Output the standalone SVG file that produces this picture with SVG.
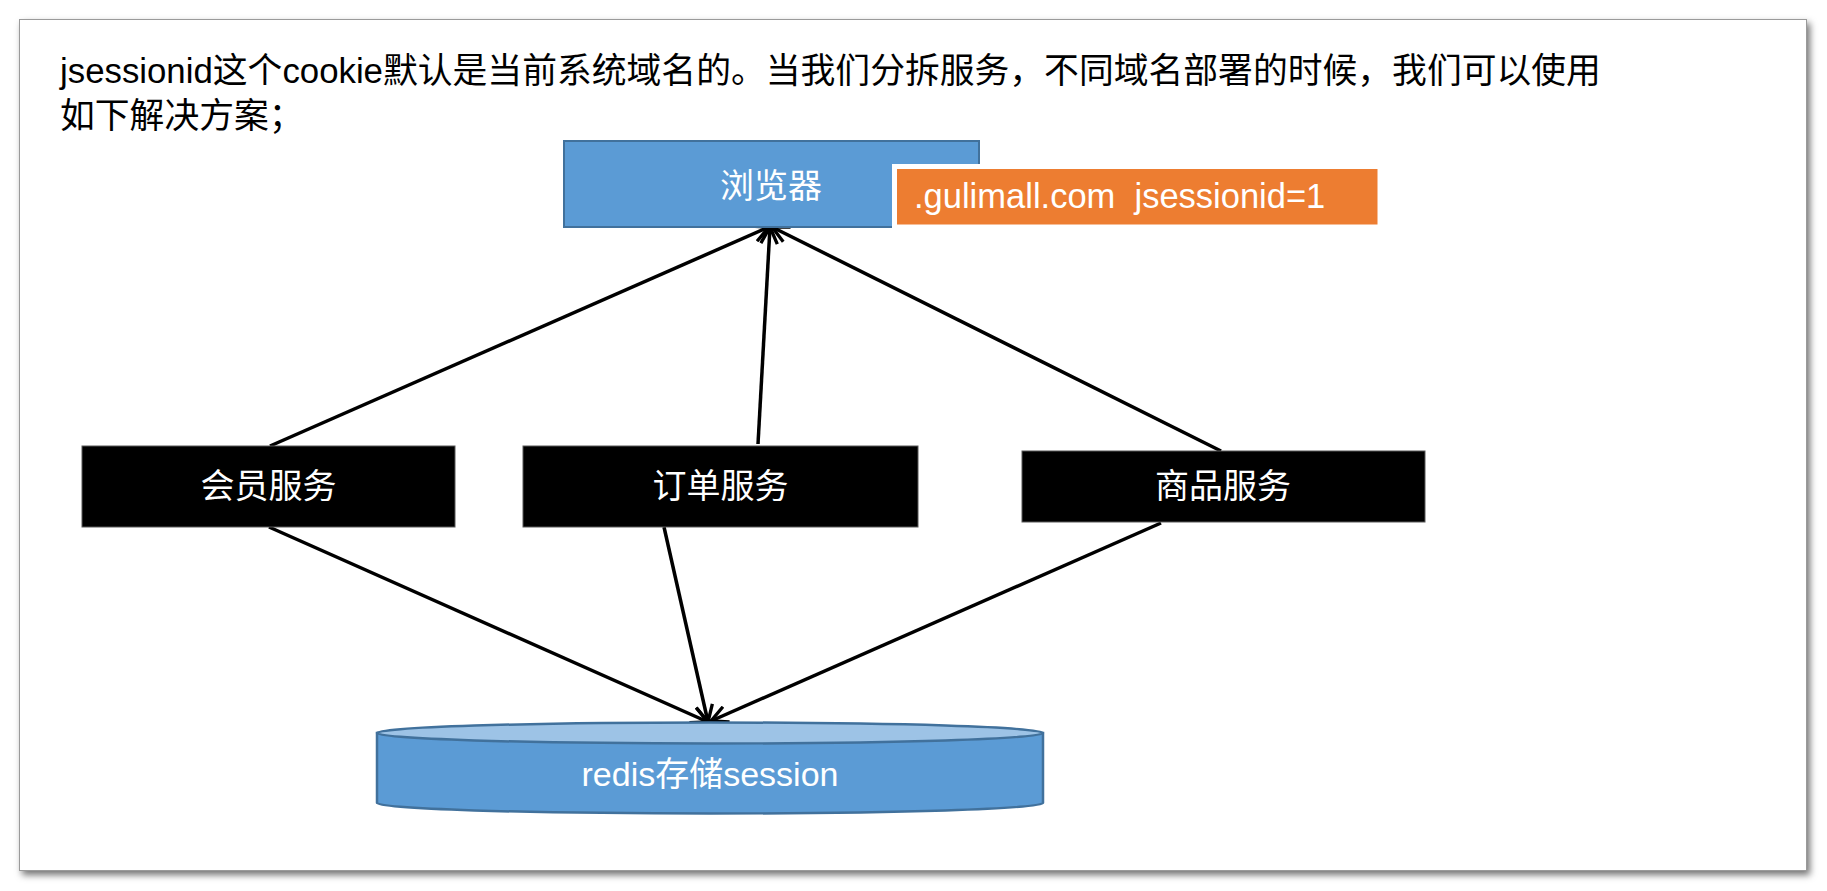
<svg xmlns="http://www.w3.org/2000/svg" width="1827" height="891" viewBox="0 0 1827 891">
<defs>
<filter id="shadow" x="-5%" y="-5%" width="110%" height="115%">
<feDropShadow dx="3" dy="4" stdDeviation="3.5" flood-color="#000" flood-opacity="0.55"/>
</filter>
<marker id="arrow" viewBox="0 0 10 10" refX="9" refY="5" markerWidth="5.6" markerHeight="5.6" orient="auto" markerUnits="strokeWidth">
<path d="M0.5,0.8 L9,5 L0.5,9.2" fill="none" stroke="#000" stroke-width="1.7" stroke-linecap="butt" stroke-linejoin="miter"/>
</marker>
</defs>
<style>
text{font-family:"Liberation Sans","Noto Sans CJK SC",sans-serif;}
.title{font-size:34.8px;fill:#000;}
.lbl{font-size:34px;fill:#fff;text-anchor:middle;}
.svc{fill:#000;stroke:#595959;stroke-width:1;}
.edge{fill:none;stroke:#000;stroke-width:3.5;marker-end:url(#arrow);}
</style>
<rect x="0" y="0" width="1827" height="891" fill="#fff"/>
<rect x="19.5" y="19.5" width="1787" height="851" fill="#fff" stroke="#9a9a9a" stroke-width="1" filter="url(#shadow)"/>
<g id="intro">
<text class="title" x="60" y="83">jsessionid这个cookie默认是当前系统域名的。当我们分拆服务，不同域名部署的时候，我们可以使用</text>
<text class="title" x="60" y="128">如下解决方案；</text>
</g>
<g id="connectors">
<line class="edge" x1="270" y1="446" x2="769" y2="227"/>
<line class="edge" x1="758" y1="444" x2="770" y2="227"/>
<line class="edge" x1="1221" y1="451" x2="772" y2="227"/>
<line class="edge" x1="269" y1="527" x2="708" y2="722"/>
<line class="edge" x1="664" y1="527" x2="708" y2="722"/>
<line class="edge" x1="1161" y1="523" x2="711" y2="721"/>
</g>
<g id="browser">
<rect x="564" y="141" width="415" height="86" fill="#5B9BD5" stroke="#41719C" stroke-width="2"/>
<text class="lbl" x="771" y="198">浏览器</text>
</g>
<g id="cookie-note">
<rect x="894.5" y="166.5" width="485.5" height="60.5" fill="#ED7D31" stroke="#fff" stroke-width="5"/>
<text x="914" y="208" font-size="34.5" fill="#fff" xml:space="preserve" style="white-space:pre">.gulimall.com  jsessionid=1</text>
</g>
<g id="member-service">
<rect class="svc" x="82" y="446" width="373" height="81"/>
<text class="lbl" x="268.5" y="498">会员服务</text>
</g>
<g id="order-service">
<rect class="svc" x="523" y="446" width="395" height="81"/>
<text class="lbl" x="720.5" y="498">订单服务</text>
</g>
<g id="product-service">
<rect class="svc" x="1022" y="451" width="403" height="71"/>
<text class="lbl" x="1223" y="498">商品服务</text>
</g>
<g id="redis">
<path d="M377,733 L377,803 A333,10.5 0 0 0 1043,803 L1043,733 Z" fill="#5B9BD5" stroke="#41719C" stroke-width="2.5"/>
<ellipse cx="710" cy="733" rx="333" ry="10.5" fill="#9DC3E6" stroke="#41719C" stroke-width="2.5"/>
<text class="lbl" x="710" y="786">redis存储session</text>
</g>
</svg>
